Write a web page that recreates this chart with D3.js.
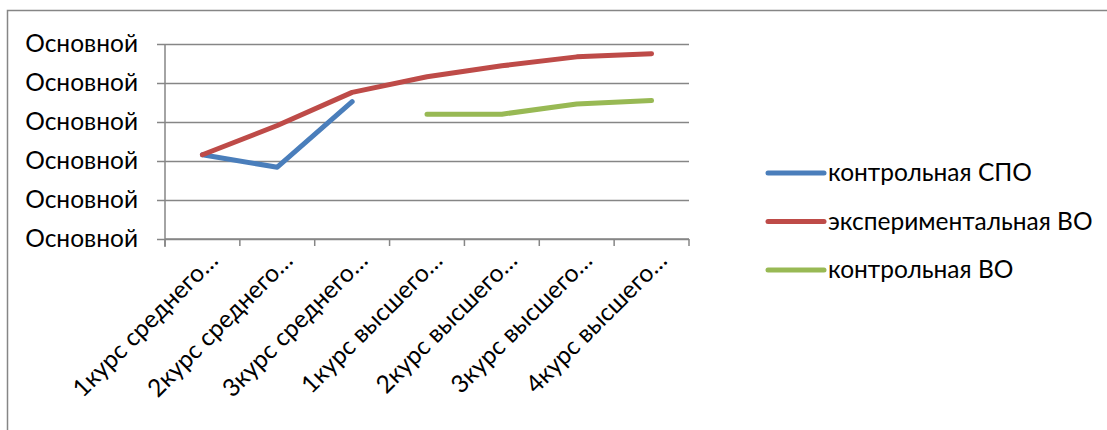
<!DOCTYPE html>
<html>
<head>
<meta charset="utf-8">
<script src="https://cdn.jsdelivr.net/npm/d3@7"></script>
<style>
    body { margin: 0; background: #fff; }
    svg text { font-family: Lato, "Open Sans", sans-serif; fill: #000; }
</style>
</head>
<body>
<svg id="chart"></svg>
<script>
// categories (labels are cut off in the source, kept as shown)
const categories = ["1курс среднего…", "2курс среднего…", "3курс среднего…",
    "1курс высшего…", "2курс высшего…", "3курс высшего…", "4курс высшего…"];

// y axis number format is "Основной" (General), so every tick shows that word
const yTicks = [0, 1, 2, 3, 4, 5];
const yTickLabel = "Основной";

// series values (null = no point)
const kontrolSPO = [2.16, 1.84, 3.52, null, null, null, null];
const experimVO = [2.16, 2.91, 3.76, 4.16, 4.44, 4.67, 4.75];
const kontrolVO = [null, null, null, 3.2, 3.2, 3.46, 3.55];

const seriesNames = ["контрольная СПО", "экспериментальная ВО", "контрольная ВО"];
const seriesColors = ["#4A7EBB", "#BE4B48", "#98B954"];

const width = 1107, height = 430;
const plot = { left: 165, right: 689, top: 44, bottom: 239 };
const gridColor = "#868686";
const fontSize = "24.5px";

const svg = d3.select("#chart")
    .attr("width", width)
    .attr("height", height);

// outer chart-area frame (only left and top edges are visible)
svg.append("path")
    .attr("d", `M7.5,${height} V10.5 H${width}`)
    .attr("fill", "none")
    .attr("stroke", gridColor)
    .attr("stroke-width", 1.5);

const xScale = d3.scaleBand()
    .domain(categories)
    .range([plot.left, plot.right]);

const yScale = d3.scaleLinear()
    .domain([0, 5])
    .range([plot.bottom, plot.top]);

// horizontal gridlines
svg.append("g")
    .attr("transform", `translate(${plot.left},0)`)
    .call(d3.axisLeft(yScale).tickValues(yTicks).tickSize(-(plot.right - plot.left)).tickFormat(""))
    .call(g => g.select(".domain").remove())
    .call(g => g.selectAll("line").attr("stroke", gridColor).attr("stroke-width", 1.5));

// y axis
svg.append("g")
    .attr("transform", `translate(${plot.left},0)`)
    .call(d3.axisLeft(yScale).tickValues(yTicks).tickSize(8).tickPadding(19).tickSizeOuter(0)
        .tickFormat(() => yTickLabel))
    .call(g => g.select(".domain").attr("stroke", gridColor).attr("stroke-width", 1.5)
        .attr("d", `M0,${plot.top} V${plot.bottom + 8}`))
    .call(g => g.selectAll("line").attr("stroke", gridColor).attr("stroke-width", 1.5))
    .call(g => g.selectAll("text").style("font-size", fontSize).attr("dy", "0.32em"));

// x axis: ticks sit on category boundaries
const boundaries = d3.range(categories.length + 1).map(i => plot.left + i * xScale.bandwidth());
const xAxis = svg.append("g");
xAxis.append("line")
    .attr("x1", plot.left).attr("x2", plot.right)
    .attr("y1", plot.bottom).attr("y2", plot.bottom)
    .attr("stroke", gridColor).attr("stroke-width", 1.5);
xAxis.selectAll("line.tick")
    .data(boundaries)
    .join("line")
    .attr("class", "tick")
    .attr("x1", d => d).attr("x2", d => d)
    .attr("y1", plot.bottom).attr("y2", plot.bottom + 7)
    .attr("stroke", gridColor).attr("stroke-width", 1.5);

xAxis.selectAll("text")
    .data(categories)
    .join("text")
    .attr("transform", d => `translate(${xScale(d) + xScale.bandwidth() / 2 + 17},${plot.bottom + 23}) rotate(-45)`)
    .attr("text-anchor", "end")
    .style("font-size", fontSize)
    .text(d => d);

// lines
const line = d3.line()
    .defined(d => d.value !== null)
    .x(d => xScale(d.cat) + xScale.bandwidth() / 2)
    .y(d => yScale(d.value));

const allSeries = [kontrolSPO, experimVO, kontrolVO].map((vals, i) => ({
    name: seriesNames[i],
    color: seriesColors[i],
    values: vals.map((v, j) => ({ cat: categories[j], value: v }))
}));

svg.append("g")
    .selectAll("path")
    .data(allSeries)
    .join("path")
    .attr("d", d => line(d.values))
    .attr("fill", "none")
    .attr("stroke", d => d.color)
    .attr("stroke-width", 5)
    .attr("stroke-linecap", "round")
    .attr("stroke-linejoin", "round");

// legend
const legend = svg.append("g")
    .attr("transform", "translate(768,173)");

const legendItem = legend.selectAll("g")
    .data(allSeries)
    .join("g")
    .attr("transform", (d, i) => `translate(0,${i * 48.5})`);

legendItem.append("line")
    .attr("x1", 0).attr("x2", 56)
    .attr("stroke", d => d.color)
    .attr("stroke-width", 5)
    .attr("stroke-linecap", "round");

legendItem.append("text")
    .attr("x", 60)
    .attr("dy", "0.33em")
    .style("font-size", fontSize)
    .text(d => d.name);
</script>
</body>
</html>
